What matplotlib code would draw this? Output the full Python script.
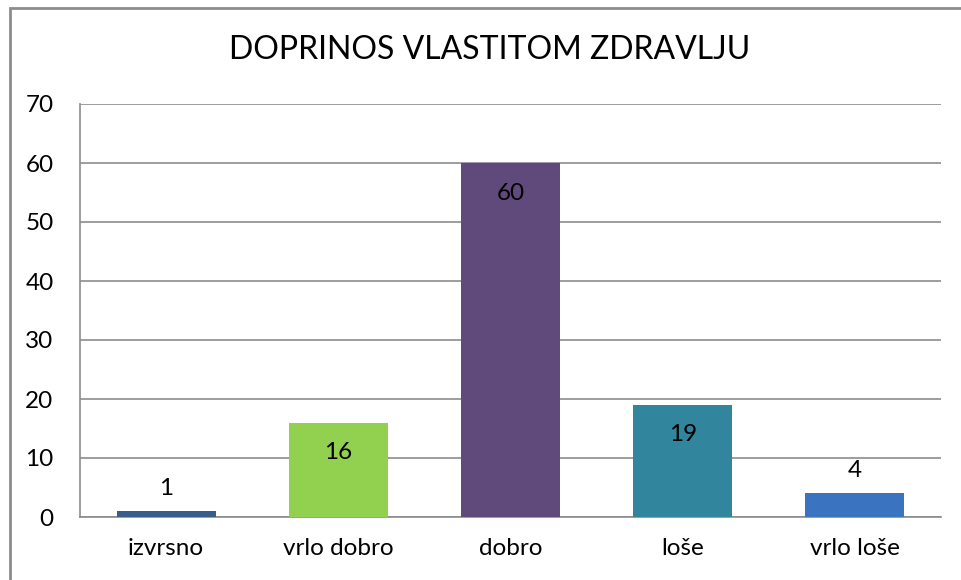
import matplotlib
matplotlib.use("Agg")
import matplotlib.pyplot as plt
from matplotlib.patches import Rectangle

categories = ["izvrsno", "vrlo dobro", "dobro", "loše", "vrlo loše"]
values = [1, 16, 60, 19, 4]
colors = ["#385D8A", "#92D050", "#604A7B", "#31859C", "#3A73C0"]
yticks = [0, 10, 20, 30, 40, 50, 60, 70]
title = "DOPRINOS VLASTITOM ZDRAVLJU"

plt.rcParams['font.family'] = ['Lato', 'DejaVu Sans']
fs = 17.5

fig = plt.figure(figsize=(9.62, 5.80), dpi=100)
fig.patches.append(Rectangle((10/962, -0.1), 1.2, (580-8)/580 + 0.1, transform=fig.transFigure,
                             fill=False, edgecolor="#8c8c8c", linewidth=2, zorder=0))
ax = fig.add_axes([80/962, 1-517/580, 861/962, (517-104)/580])

x = list(range(len(categories)))
bars = ax.bar(x, values, width=0.575, color=colors, zorder=3)
ax.set_xlim(-0.5, len(categories)-0.5)
ax.set_ylim(0, 70)
ax.set_yticks(yticks)
ax.set_yticklabels([str(t) for t in yticks], fontsize=fs)
ax.set_xticks(x)
ax.set_xticklabels(categories, fontsize=fs)
ax.tick_params(axis='y', length=0, pad=19)
ax.tick_params(axis='x', length=0, pad=15)
ax.yaxis.grid(True, color="#8c8c8c", linewidth=1.2, zorder=0)
for s in ["top", "right"]:
    ax.spines[s].set_visible(False)
ax.spines["left"].set_color("#8c8c8c")
ax.spines["bottom"].set_color("#8c8c8c")
ax.spines["left"].set_linewidth(1.2)
ax.spines["bottom"].set_linewidth(1.2)

for xi, v in zip(x, values):
    if v >= 10:
        ax.annotate(str(v), (xi, v), xytext=(0, -30), textcoords="offset pixels",
                    ha="center", va="center", fontsize=fs, zorder=4)
    else:
        ax.annotate(str(v), (xi, v), xytext=(0, 23), textcoords="offset pixels",
                    ha="center", va="center", fontsize=fs, zorder=4)

fig.text(490/962, 1-50/580, title, ha="center", va="center", fontsize=23)
fig.savefig("out.png", dpi=100)
